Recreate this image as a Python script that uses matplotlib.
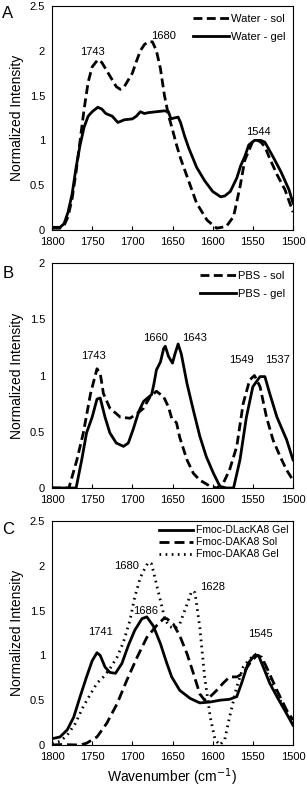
import matplotlib
matplotlib.use('Agg')
import matplotlib.pyplot as plt

plt.rcParams['font.family'] = ['Liberation Sans', 'DejaVu Sans']

# panel A: water
wn_a_sol = [1800, 1790, 1785, 1780, 1775, 1770, 1765, 1760, 1755, 1750, 1743, 1738, 1730, 1720,
            1715, 1710, 1700, 1695, 1690, 1685, 1680, 1675, 1670, 1665, 1660, 1655, 1650, 1645,
            1640, 1632, 1620, 1607, 1595, 1583, 1574, 1566, 1560, 1550, 1544, 1540, 1535, 1530,
            1520, 1510, 1500]
water_sol = [0.02, 0.02, 0.05, 0.15, 0.35, 0.65, 1.0, 1.35, 1.65, 1.82, 1.9, 1.87, 1.75, 1.6,
             1.57, 1.6, 1.75, 1.88, 2.0, 2.07, 2.1, 2.1, 2.0, 1.8, 1.5, 1.28, 1.12, 0.95,
             0.8, 0.6, 0.3, 0.11, 0.02, 0.04, 0.15, 0.48, 0.78, 0.99, 1.0, 0.98, 0.93, 0.82,
             0.62, 0.45, 0.2]
wn_a_gel = [1800, 1790, 1785, 1780, 1775, 1770, 1765, 1760, 1755, 1750, 1743, 1738, 1733, 1725,
            1718, 1710, 1700, 1695, 1690, 1685, 1680, 1670, 1660, 1655, 1652, 1648, 1643, 1640,
            1635, 1630, 1620, 1610, 1600, 1590, 1585, 1578, 1570, 1565, 1560, 1555, 1548, 1540,
            1535, 1525, 1515, 1505, 1500]
water_gel = [0.03, 0.03, 0.07, 0.2, 0.4, 0.7, 0.95, 1.15, 1.27, 1.32, 1.37, 1.35, 1.3, 1.27,
             1.2, 1.23, 1.24, 1.27, 1.32, 1.3, 1.31, 1.32, 1.33, 1.32, 1.24, 1.25, 1.26, 1.2,
             1.05, 0.92, 0.7, 0.55, 0.43, 0.37, 0.38, 0.43, 0.58, 0.72, 0.82, 0.95, 1.0, 1.0,
             0.98, 0.82, 0.65, 0.45, 0.3]

# panel B: PBS
wn_b_sol = [1800, 1779, 1769, 1761, 1752, 1744, 1740, 1736, 1728, 1715, 1703, 1694, 1686, 1678,
            1670, 1661, 1655, 1651, 1645, 1641, 1632, 1624, 1616, 1603, 1595, 1587, 1579, 1570,
            1562, 1554, 1548, 1541, 1533, 1525, 1516, 1508, 1500]
pbs_sol = [0.0, 0.0, 0.25, 0.49, 0.84, 1.06, 1.02, 0.84, 0.71, 0.63, 0.62, 0.66, 0.71, 0.81,
           0.86, 0.81, 0.72, 0.62, 0.58, 0.45, 0.25, 0.13, 0.07, 0.015, 0.0, 0.04, 0.16, 0.37,
           0.75, 0.96, 1.0, 0.9, 0.63, 0.43, 0.28, 0.16, 0.07]
wn_b_gel = [1800, 1770, 1763, 1757, 1750, 1744, 1740, 1734, 1728, 1720, 1711, 1705, 1699, 1692,
            1686, 1676, 1673, 1670, 1665, 1661, 1659, 1655, 1650, 1647, 1643, 1639, 1632, 1624,
            1616, 1608, 1599, 1591, 1583, 1574, 1566, 1558, 1550, 1541, 1535, 1529, 1520, 1508,
            1500]
pbs_gel = [0.0, 0.0, 0.25, 0.49, 0.63, 0.79, 0.8, 0.63, 0.49, 0.4, 0.37, 0.4, 0.52, 0.68,
           0.77, 0.83, 0.93, 1.05, 1.12, 1.24, 1.26, 1.17, 1.11, 1.19, 1.28, 1.19, 0.93, 0.69,
           0.46, 0.28, 0.13, 0.015, 0.0, 0.0, 0.25, 0.63, 0.9, 0.99, 0.99, 0.84, 0.63, 0.43,
           0.25]

# panel C: Fmoc peptides
wn_c1 = [1800, 1790, 1781, 1773, 1765, 1757, 1750, 1744, 1740, 1734, 1728, 1721, 1713, 1705,
         1697, 1688, 1682, 1674, 1665, 1657, 1651, 1641, 1628, 1616, 1603, 1591, 1579, 1570,
         1564, 1556, 1548, 1543, 1537, 1529, 1520, 1508, 1500]
dlac_gel = [0.07, 0.09, 0.17, 0.31, 0.54, 0.76, 0.94, 1.03, 1.0, 0.87, 0.81, 0.8, 0.91, 1.11,
            1.28, 1.41, 1.43, 1.33, 1.13, 0.91, 0.76, 0.61, 0.52, 0.47, 0.48, 0.5, 0.51, 0.54,
            0.69, 0.91, 1.0, 1.0, 0.87, 0.69, 0.54, 0.35, 0.22]
wn_c2 = [1800, 1790, 1765, 1757, 1744, 1732, 1719, 1707, 1694, 1682, 1670, 1661, 1657, 1649,
         1641, 1632, 1624, 1616, 1610, 1603, 1595, 1587, 1579, 1570, 1562, 1554, 1545, 1539,
         1533, 1520, 1508, 1500]
daka_sol = [0.0, 0.005, 0.0, 0.02, 0.09, 0.24, 0.46, 0.72, 0.98, 1.2, 1.33, 1.41, 1.41, 1.35,
            1.22, 1.02, 0.8, 0.57, 0.5, 0.54, 0.61, 0.69, 0.76, 0.76, 0.8, 0.91, 1.0, 0.98,
            0.87, 0.61, 0.39, 0.28]
wn_c3 = [1800, 1790, 1781, 1771, 1761, 1752, 1744, 1736, 1728, 1719, 1711, 1703, 1697, 1690,
         1684, 1680, 1676, 1672, 1665, 1659, 1653, 1647, 1641, 1632, 1626, 1622, 1616, 1610,
         1603, 1597, 1591, 1585, 1579, 1570, 1562, 1554, 1545, 1537, 1529, 1516, 1500]
daka_gel = [0.02, 0.04, 0.11, 0.24, 0.43, 0.57, 0.69, 0.76, 0.85, 0.98, 1.15, 1.39, 1.65, 1.87,
            1.98, 2.04, 2.02, 1.87, 1.61, 1.39, 1.32, 1.3, 1.35, 1.57, 1.72, 1.7, 1.31, 0.76,
            0.31, 0.06, 0.0, 0.06, 0.31, 0.65, 0.87, 0.96, 1.02, 0.94, 0.72, 0.5, 0.26]

fig = plt.figure(figsize=(3.07, 7.88), dpi=100)
W, H = 307.0, 788.0


def make_axes(top, bottom):
    return fig.add_axes([52 / W, 1 - bottom / H, (293 - 52) / W, (bottom - top) / H])


def style(ax, ymax, ystep):
    ax.set_xlim(1800, 1500)
    ax.set_ylim(0, ymax)
    ax.set_xticks([1800, 1750, 1700, 1650, 1600, 1550, 1500])
    yt = [i * ystep for i in range(int(round(ymax / ystep)) + 1)]
    ax.set_yticks(yt)
    ax.set_yticklabels(['%g' % v for v in yt])
    ax.tick_params(axis='x', direction='in', length=3, labelsize=8, pad=5)
    ax.tick_params(axis='y', direction='out', length=0, labelsize=8, pad=5)
    for s in ax.spines.values():
        s.set_linewidth(0.8)
    ax.set_ylabel('Normalized Intensity', fontsize=10, labelpad=4)


lw = 2.0
dash = (0, (3.2, 1.6))

# A
axA = make_axes(6, 230)
axA.plot(wn_a_sol, water_sol, color='black', lw=lw, linestyle=dash, label='Water - sol')
axA.plot(wn_a_gel, water_gel, color='black', lw=lw, label='Water - gel')
style(axA, 2.5, 0.5)
axA.legend(loc='upper right', frameon=False, fontsize=8, handlelength=3.2,
           handletextpad=0.2, labelspacing=0.75, borderaxespad=0.3)
axA.text(1750, 1.99, '1743', ha='center', va='center', fontsize=8)
axA.text(1661, 2.17, '1680', ha='center', va='center', fontsize=8)
axA.text(1543, 1.09, '1544', ha='center', va='center', fontsize=8)
fig.text(8 / W, 1 - 13 / H, 'A', fontsize=12, ha='center', va='center')

# B
axB = make_axes(263, 488)
axB.plot(wn_b_sol, pbs_sol, color='black', lw=lw, linestyle=dash, label='PBS - sol')
axB.plot(wn_b_gel, pbs_gel, color='black', lw=lw, label='PBS - gel')
style(axB, 2.0, 0.5)
axB.legend(loc='upper right', frameon=False, fontsize=8, handlelength=3.2,
           handletextpad=0.2, labelspacing=0.75, borderaxespad=0.3)
axB.text(1748, 1.17, '1743', ha='center', va='center', fontsize=8)
axB.text(1671, 1.33, '1660', ha='center', va='center', fontsize=8)
axB.text(1623, 1.33, '1643', ha='center', va='center', fontsize=8)
axB.text(1564, 1.14, '1549', ha='center', va='center', fontsize=8)
axB.text(1519, 1.14, '1537', ha='center', va='center', fontsize=8)
fig.text(8 / W, 1 - 273 / H, 'B', fontsize=12, ha='center', va='center')

# C
axC = make_axes(521, 745)
axC.plot(wn_c1, dlac_gel, color='black', lw=lw, label='Fmoc-DLacKA8 Gel')
axC.plot(wn_c2, daka_sol, color='black', lw=lw, linestyle=(0, (3.6, 1.8)), label='Fmoc-DAKA8 Sol')
axC.plot(wn_c3, daka_gel, color='black', lw=lw, linestyle=(0, (0.6, 1.6)), label='Fmoc-DAKA8 Gel')
style(axC, 2.5, 0.5)
axC.legend(loc='upper right', frameon=False, fontsize=7.5, handlelength=3.3,
           handletextpad=0.3, labelspacing=0.2, borderaxespad=0.0)
axC.text(1740, 1.26, '1741', ha='center', va='center', fontsize=8)
axC.text(1707, 2.0, '1680', ha='center', va='center', fontsize=8)
axC.text(1684, 1.5, '1686', ha='center', va='center', fontsize=8)
axC.text(1600, 1.76, '1628', ha='center', va='center', fontsize=8)
axC.text(1541, 1.24, '1545', ha='center', va='center', fontsize=8)
axC.set_xlabel('Wavenumber (cm$^{-1}$)', fontsize=10, labelpad=3)
fig.text(8 / W, 1 - 530 / H, 'C', fontsize=12, ha='center', va='center')

fig.savefig('out.png', dpi=100)
